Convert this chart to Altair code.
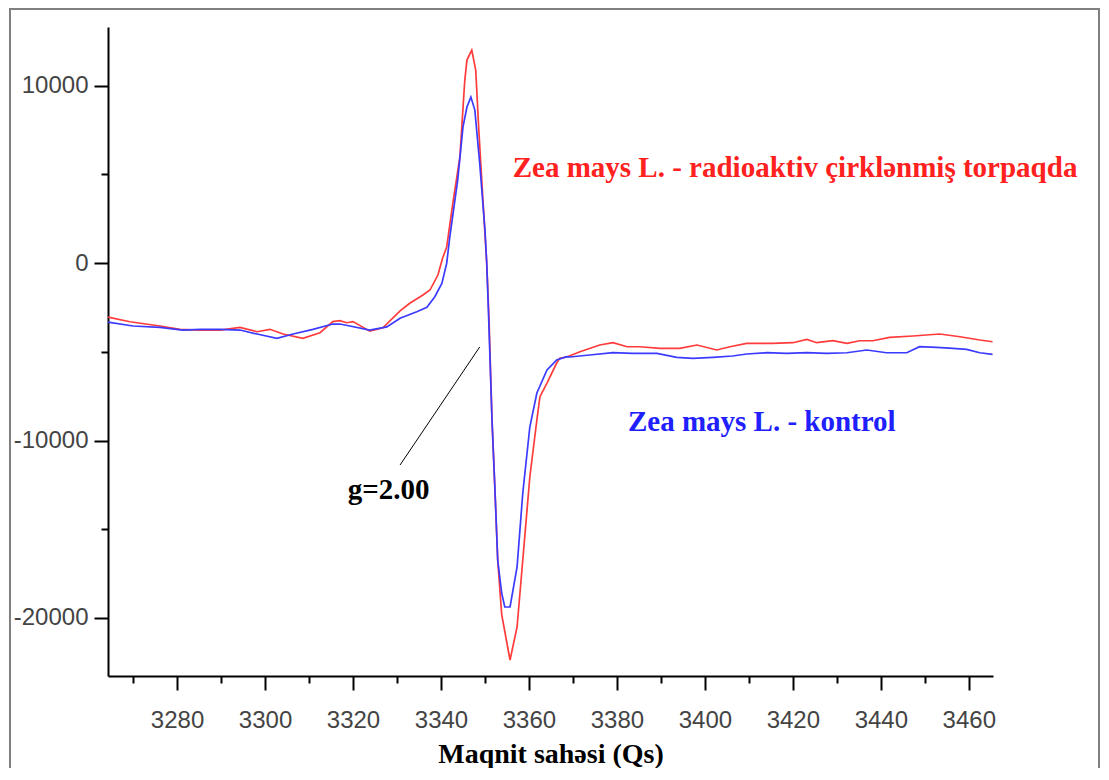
import altair as alt
import pandas as pd

# Red: Zea mays L. - radioaktiv çirklənmiş torpaqda
red_x = [3264.3, 3269.3, 3276.1, 3280.7, 3285.2, 3289.8, 3294.3, 3298.2, 3301.1, 3304.1,
         3308.6, 3312.5, 3315.4, 3317.0, 3318.6, 3320.0, 3323.8, 3326.8, 3330.7, 3332.9,
         3335.9, 3337.5, 3339.3, 3340.4, 3341.3, 3342.7, 3344.3, 3345.4, 3345.9, 3347.0,
         3347.9, 3348.6, 3349.5, 3350.4, 3350.9, 3351.6, 3352.3, 3352.9, 3353.8, 3355.7,
         3357.3, 3358.6, 3360.2, 3361.8, 3362.5, 3364.1, 3366.3, 3367.0, 3368.6, 3371.6,
         3376.1, 3379.1, 3382.3, 3385.2, 3389.8, 3394.3, 3398.2, 3402.7, 3405.7, 3409.5,
         3415.4, 3420.0, 3423.2, 3425.4, 3429.1, 3432.3, 3435.2, 3438.2, 3442.0, 3447.3,
         3453.4, 3458.0, 3462.5, 3465.4]
red_y = [-3050, -3307, -3549, -3735, -3775, -3775, -3623, -3871, -3735, -4000,
         -4242, -3927, -3300, -3251, -3363, -3300, -3840, -3650, -2700, -2270,
         -1803, -1521, -676, 300, 900, 3380, 5972, 10254, 11437, 12000,
         10874, 7493, 3718, 0, -3000, -8845, -12958, -16733, -19800, -22367,
         -20508, -16733, -12057, -8845, -7533, -6761, -5634, -5369, -5296, -4997,
         -4620, -4490, -4716, -4716, -4806, -4806, -4620, -4900, -4716, -4524,
         -4524, -4490, -4299, -4490, -4378, -4524, -4378, -4378, -4186, -4113,
         -4000, -4152, -4338, -4434]

# Blue: Zea mays L. - kontrol
blue_x = [3264.3, 3270.0, 3276.1, 3281.3, 3285.2, 3289.8, 3294.3, 3298.2, 3302.7, 3306.4,
          3310.9, 3315.4, 3317.0, 3319.3, 3323.8, 3327.7, 3330.7, 3334.5, 3336.8, 3338.6,
          3340.2, 3341.3, 3342.0, 3343.8, 3345.0, 3345.9, 3346.8, 3347.7, 3348.8, 3350.0,
          3350.4, 3350.9, 3351.6, 3352.3, 3352.9, 3353.8, 3354.5, 3355.7, 3357.3, 3358.6,
          3360.2, 3361.8, 3364.1, 3365.4, 3366.3, 3368.6, 3369.3, 3373.8, 3379.1, 3383.6,
          3389.1, 3393.6, 3397.3, 3401.8, 3406.3, 3409.5, 3414.1, 3418.6, 3423.2, 3427.7,
          3432.3, 3436.8, 3441.3, 3445.9, 3448.8, 3452.7, 3456.4, 3459.5, 3462.5, 3465.4]
blue_y = [-3330, -3549, -3623, -3775, -3735, -3735, -3775, -4000, -4242, -4000,
          -3735, -3437, -3437, -3549, -3775, -3600, -3116, -2744, -2496, -1899,
          -1144, -17, 1465, 4676, 7662, 8789, 9352, 8620, 5634, 1859,
          0, -3500, -8845, -12958, -16733, -18592, -19381, -19381, -17127, -12958,
          -9240, -7324, -6028, -5700, -5465, -5279, -5296, -5183, -5054, -5088,
          -5088, -5313, -5369, -5313, -5240, -5127, -5054, -5088, -5054, -5088,
          -5054, -4902, -5054, -5054, -4716, -4749, -4806, -4862, -5054, -5144]

x_major = [3280, 3300, 3320, 3340, 3360, 3380, 3400, 3420, 3440, 3460]
x_minor = [3270, 3290, 3310, 3330, 3350, 3370, 3390, 3410, 3430, 3450]
y_major = [10000, 0, -10000, -20000]
y_minor = [5000, -5000, -15000]

labels_text = ["Zea mays L. - radioaktiv çirklənmiş torpaqda", "Zea mays L. - kontrol", "g=2.00"]
labels_x = [3356.3, 3382.5, 3318.8]
labels_y = [5352, -8958, -12789]
labels_color = ["#ff2020", "#2020ff", "#000000"]

gline_x = [3330.7]
gline_y = [-11380]
gline_x2 = [3348.8]
gline_y2 = [-4732]

X_DOMAIN = [3264.3, 3465.5]
Y_DOMAIN = [-23270, 13300]

red_df = pd.DataFrame({"x": red_x, "y": red_y})
blue_df = pd.DataFrame({"x": blue_x, "y": blue_y})
lab_df = pd.DataFrame({"t": labels_text, "x": labels_x, "y": labels_y, "c": labels_color})
gl_df = pd.DataFrame({"x": gline_x, "y": gline_y, "x2": gline_x2, "y2": gline_y2})

xs = alt.Scale(domain=X_DOMAIN, nice=False, zero=False)
ys = alt.Scale(domain=Y_DOMAIN, nice=False, zero=False)

common_axis = dict(domainColor="black", domainWidth=2, tickColor="black", tickWidth=2,
                   labelColor="#444444", labelFont="Liberation Sans", labelFontSize=24,
                   grid=False)

x_axis = alt.Axis(values=x_major, tickSize=14, labelPadding=18, orient="bottom",
                  labelExpr="'' + datum.value",
                  title="Maqnit sahəsi (Qs)", titleFont="Liberation Serif",
                  titleFontSize=28, titleFontWeight="bold", titleColor="black",
                  titlePadding=8, **common_axis)
y_axis = alt.Axis(values=y_major, tickSize=14, labelPadding=6, orient="left",
                  labelExpr="'' + datum.value", title=None, **common_axis)

x_axis_minor = alt.Axis(values=x_minor, tickSize=7, labels=False, domain=False,
                        orient="bottom", title=None, tickColor="black", tickWidth=2,
                        grid=False)
y_axis_minor = alt.Axis(values=y_minor, tickSize=7, labels=False, domain=False,
                        orient="left", title=None, tickColor="black", tickWidth=2,
                        grid=False)

frame = alt.Chart(alt.Data(values=[{"a": 1}])).mark_rect(
    fillOpacity=0, stroke="#808080", strokeWidth=2
).encode(x=alt.value(-98), x2=alt.value(991), y=alt.value(-18), y2=alt.value(900))

red_line = alt.Chart(red_df).mark_line(color="#ff3b3b", strokeWidth=1.7).encode(
    x=alt.X("x:Q", scale=xs, axis=x_axis),
    y=alt.Y("y:Q", scale=ys, axis=y_axis),
)
blue_line = alt.Chart(blue_df).mark_line(color="#3b3bff", strokeWidth=1.7).encode(
    x=alt.X("x:Q", scale=xs, axis=x_axis_minor),
    y=alt.Y("y:Q", scale=ys, axis=y_axis_minor),
)

texts = alt.Chart(lab_df).mark_text(
    align="left", baseline="middle", font="Liberation Serif", fontSize=29, fontWeight="bold"
).encode(
    x=alt.X("x:Q", scale=xs, axis=None),
    y=alt.Y("y:Q", scale=ys, axis=None),
    text="t:N",
    color=alt.Color("c:N", scale=None),
)

gline = alt.Chart(gl_df).mark_rule(color="black", strokeWidth=1).encode(
    x=alt.X("x:Q", scale=xs, axis=None), y=alt.Y("y:Q", scale=ys, axis=None),
    x2="x2:Q", y2="y2:Q"
)

chart = alt.layer(frame, red_line, blue_line, gline, texts).resolve_axis(
    x="independent", y="independent"
).properties(
    width=885, height=649,
    autosize=alt.AutoSizeParams(type="none"),
    padding={"left": 100, "top": 19, "right": 108, "bottom": 92},
    background="white",
).configure_view(stroke=None)

chart.save("out.html", embed_options={"renderer": "svg", "actions": False})
